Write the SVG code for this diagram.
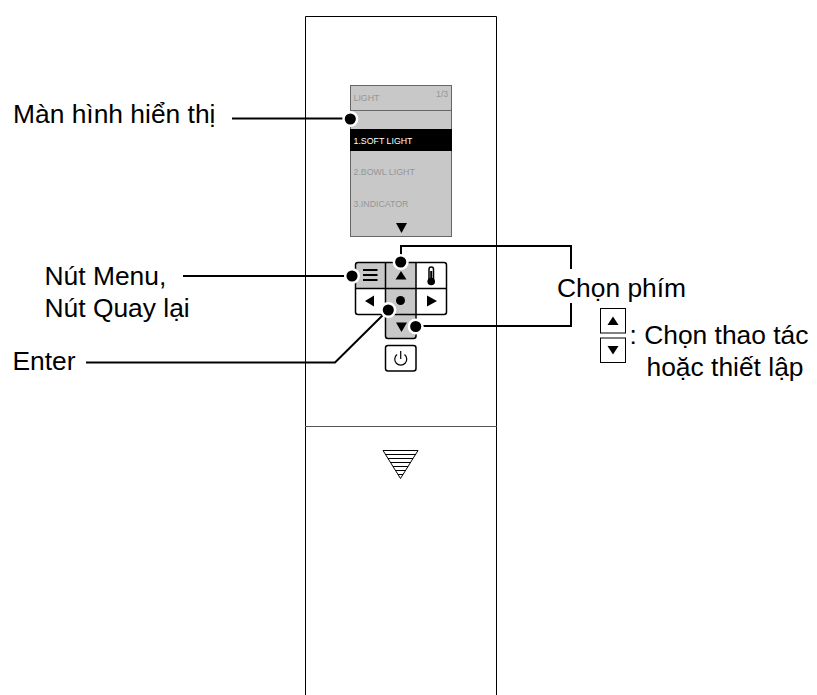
<svg xmlns="http://www.w3.org/2000/svg" width="817" height="695" viewBox="0 0 817 695">
<style>
text{font-family:"Liberation Sans",Arial,sans-serif}
.l{font-size:26.400px;fill:#000}
.s{font-size:8.800px;fill:#969696}
.k{fill:#000}
.ln{fill:none;stroke:#000;stroke-width:2}
.d{fill:#000;stroke:#fff;stroke-width:2.500}
</style>
<rect width="817" height="695" fill="#fff"/>
<g id="remote">
<path d="M305.500 695V16.500H496.500V695" fill="none" stroke="#000" stroke-width="1"/>
<line x1="305" y1="426.500" x2="497" y2="426.500" stroke="#555" stroke-width="1"/>
</g>
<g id="screen">
<rect x="350.500" y="85.500" width="101" height="151" fill="#c8c8c8" stroke="#666" stroke-width="1"/>
<line x1="350" y1="110.500" x2="452" y2="110.500" stroke="#666" stroke-width="1"/>
<rect x="350" y="129" width="102" height="22" fill="#000"/>
<text class="s" x="353.500" y="101">LIGHT</text>
<text class="s" x="436" y="96.500">1/3</text>
<text x="353.500" y="144" style="font-size:8.800px" fill="#fff">1.SOFT LIGHT</text>
<text class="s" x="353.500" y="175">2.BOWL LIGHT</text>
<text class="s" x="353.500" y="207">3.INDICATOR</text>
<polygon class="k" points="396,223 407,223 401.500,233"/>
</g>
<g id="keypad">
<path d="M358 263H385.500V288.500H355.500V265.500Q355.500 263 358 263Z" fill="#c8c8c8"/>
<path d="M385.500 263H416V288.500H385.500Z" fill="#c8c8c8"/>
<path d="M385.500 288.500H416V336Q416 338.500 413.500 338.500H388Q385.500 338.500 385.500 336Z" fill="#c8c8c8"/>
<rect x="355.500" y="262.500" width="91" height="52" rx="2.500" fill="none" stroke="#000" stroke-width="1.500"/>
<path d="M385.500 262.500V336Q385.500 338.500 388 338.500H413.500Q416 338.500 416 336V262.500M355.500 288.500H446.500" fill="none" stroke="#000" stroke-width="1.500"/>
<path d="M363 270H377.500M363 275H377.500M363 280H377.500" stroke="#000" stroke-width="2" fill="none"/>
<polygon class="k" points="401,271 406.500,279.500 395.500,279.500"/>
<rect x="429" y="267" width="4.500" height="14" rx="2.200" fill="#fff" stroke="#000" stroke-width="1.500"/>
<circle cx="431.200" cy="281.500" r="3.800" class="k"/>
<rect x="430.200" y="271" width="2" height="10" class="k"/>
<polygon class="k" points="365,301 374,295.500 374,306.500"/>
<polygon class="k" points="437,301 427,295.500 427,306.500"/>
<circle cx="400.500" cy="300.500" r="4.500" class="k"/>
<polygon class="k" points="396,322.500 407,322.500 401.500,332"/>
</g>
<g id="power">
<rect x="385.500" y="345.500" width="30.500" height="25.500" rx="2.500" fill="#fff" stroke="#000" stroke-width="1.500"/>
<path d="M397 354.500A6 6 0 1 0 404.500 354.500M400.700 351V359" fill="none" stroke="#000" stroke-width="1.200"/>
</g>
<g id="down-mark">
<path d="M383 450.500H418L400.500 478.500ZM385.500 454.500H415.500M388 458.500H413M390.500 462.500H410.500M393 466.500H408M395.500 470.500H405.500M398 474.500H403" fill="#fff" stroke="#000" stroke-width="1"/>
</g>
<g id="connectors">
<path class="ln" d="M232 118.500H350"/>
<path class="ln" d="M183 276H352"/>
<path class="ln" d="M401 262V246H571V269M571 303V326H416"/>
<path class="ln" d="M86 362.500H335L388 310"/>
<circle class="d" cx="350.300" cy="119" r="6.800"/>
<circle class="d" cx="352" cy="276" r="6.800"/>
<circle class="d" cx="400.700" cy="262" r="6.800"/>
<circle class="d" cx="388.300" cy="310" r="6.800"/>
<circle class="d" cx="415.700" cy="326.500" r="6.800"/>
</g>
<g id="labels">
<text class="l" x="13" y="123">Màn hình hiển thị</text>
<text class="l" x="44.500" y="285">Nút Menu,</text>
<text class="l" x="44.500" y="317">Nút Quay lại</text>
<text class="l" x="12.500" y="370">Enter</text>
<text class="l" x="557" y="297">Chọn phím</text>
<text class="l" x="629.500" y="344">: Chọn thao tác</text>
<text class="l" x="646.500" y="376">hoặc thiết lập</text>
</g>
<g id="key-legend">
<rect x="600.500" y="308.500" width="25" height="24.500" fill="#fff" stroke="#000" stroke-width="1"/>
<rect x="600.500" y="338" width="25" height="24.500" fill="#fff" stroke="#000" stroke-width="1"/>
<polygon class="k" points="613,316.500 618.500,325 607.500,325"/>
<polygon class="k" points="613,354.500 618.500,346 607.500,346"/>
</g>
</svg>
